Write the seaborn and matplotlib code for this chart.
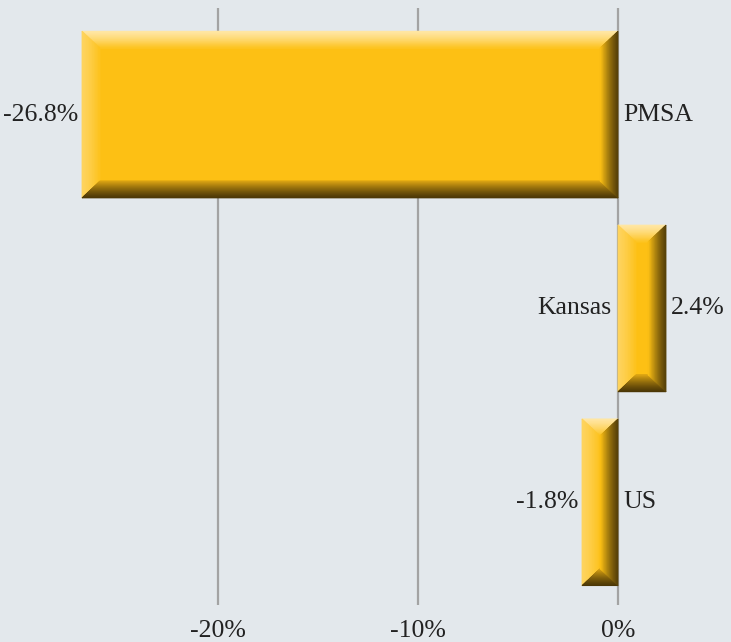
import numpy as np
import matplotlib.pyplot as plt
import seaborn as sns
from matplotlib.patches import Polygon
from matplotlib.colors import to_rgb

# data
regions = ["PMSA", "Kansas", "US"]
change = [-26.8, 2.4, -1.8]
ticks = [-20, -10, 0]
tick_labels = ["-20%", "-10%", "0%"]

bg = "#e3e8ec"
gold = "#fdc014"
fs = 18.5

sns.set_style("white")
plt.rcParams["font.family"] = ["Liberation Serif", "DejaVu Serif"]

fig = plt.figure(figsize=(7.31, 6.42), dpi=100, facecolor=bg)
ax = fig.add_axes([0, 0.0576, 1, 0.93])
ax.set_facecolor(bg)

sns.barplot(x=change, y=regions, orient="h", color=gold, width=0.86,
            saturation=1, linewidth=0, ax=ax, zorder=3)

ax.set_xlim(-30.9, 5.65)
ax.set_ylim(2.53, -0.55)


def mix(c1, c2, t):
    a, b = np.array(to_rgb(c1)), np.array(to_rgb(c2))
    return tuple(a + (b - a) * t)


def bevel(p1, p2, q1, q2, c_out, c_in, n=30):
    # strip from outer edge p1-p2 to inner edge q1-q2, colour graded
    p1, p2, q1, q2 = map(np.array, (p1, p2, q1, q2))
    for i in range(n):
        t0, t1 = i / n, (i + 1) / n
        pts = [p1 + (q1 - p1) * t0, p2 + (q2 - p2) * t0,
               p2 + (q2 - p2) * t1, p1 + (q1 - p1) * t1]
        c = mix(c_out, c_in, ((t0 + t1) / 2) ** 1.3)
        ax.add_patch(Polygon(pts, closed=True, lw=0.6, facecolor=c,
                             edgecolor=c, zorder=4))


# bevel size in data units
bx = 18 / 20.0
by = 17 / 194.0
for p in ax.patches[:len(change)]:
    x0, w = p.get_x(), p.get_width()
    left, right = min(x0, x0 + w), max(x0, x0 + w)
    top, bot = p.get_y(), p.get_y() + p.get_height()
    # top highlight
    bevel((left, top), (right, top), (left + bx, top + by), (right - bx, top + by),
          "#ffe7a6", "#fdc420")
    # left highlight
    bevel((left, top), (left, bot), (left + bx, top + by), (left + bx, bot - by),
          "#fed460", "#fdc31e")
    # bottom shadow
    bevel((left, bot), (right, bot), (left + bx, bot - by), (right - bx, bot - by),
          "#4a3606", "#d9a212")
    # right shadow
    bevel((right, top), (right, bot), (right - bx, top + by), (right - bx, bot - by),
          "#553f08", "#fdc014")

# labels
for i, (r, v) in enumerate(zip(regions, change)):
    if v < 0:
        ax.text(v - 0.2, i, f"{v:.1f}%", ha="right", va="center", fontsize=fs, color="#222222")
        ax.text(0.25, i, r, ha="left", va="center", fontsize=fs, color="#222222")
    else:
        ax.text(v + 0.25, i, f"{v:.1f}%", ha="left", va="center", fontsize=fs, color="#222222")
        ax.text(-0.35, i, r, ha="right", va="center", fontsize=fs, color="#222222")

ax.set_xticks(ticks)
ax.set_xticklabels(tick_labels, fontsize=fs, color="#222222")
ax.tick_params(axis="x", length=0, pad=11)
ax.set_yticks([])
ax.set_xlabel("")
ax.set_ylabel("")
ax.grid(axis="x", color="#a3a3a3", lw=1.6)
ax.grid(axis="y", visible=False)
ax.set_axisbelow(True)
sns.despine(ax=ax, left=True, bottom=True)

fig.savefig("out.png", dpi=100, facecolor=bg)
